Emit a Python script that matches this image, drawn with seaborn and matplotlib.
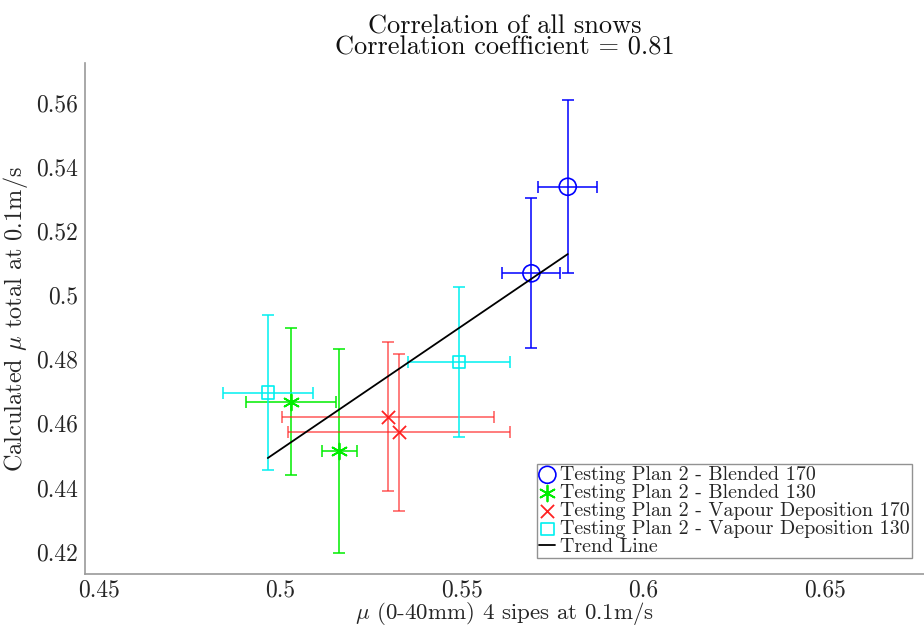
import numpy as np
import pandas as pd
import matplotlib
matplotlib.use("Agg")
import matplotlib.pyplot as plt
import seaborn as sns

# Measured friction (x) vs calculated friction (y), with error half-widths
series_names = [
    "Testing Plan 2 - Blended 170",
    "Testing Plan 2 - Blended 130",
    "Testing Plan 2 - Vapour Deposition 170",
    "Testing Plan 2 - Vapour Deposition 130",
]
blended170_x = [0.5791, 0.5691]
blended170_y = [0.5338, 0.5068]
blended170_xerr = [0.0081, 0.0080]
blended170_yerr = [0.0270, 0.0234]

blended130_x = [0.5030, 0.5162]
blended130_y = [0.4668, 0.4515]
blended130_xerr = [0.0124, 0.0048]
blended130_yerr = [0.0228, 0.0318]

vapour170_x = [0.5295, 0.5327]
vapour170_y = [0.4621, 0.4572]
vapour170_xerr = [0.0292, 0.0305]
vapour170_yerr = [0.0233, 0.0244]

vapour130_x = [0.4965, 0.5492]
vapour130_y = [0.4696, 0.4792]
vapour130_xerr = [0.0124, 0.0140]
vapour130_yerr = [0.0241, 0.0234]

correlation_coefficient = 0.81

x_ticks = [0.45, 0.5, 0.55, 0.6, 0.65]
x_tick_labels = ["0.45", "0.5", "0.55", "0.6", "0.65"]
y_ticks = [0.42, 0.44, 0.46, 0.48, 0.5, 0.52, 0.54, 0.56]
y_tick_labels = ["0.42", "0.44", "0.46", "0.48", "0.5", "0.52", "0.54", "0.56"]

sns.set_style("white")
plt.rcParams["font.family"] = ["cmr10", "DejaVu Serif"]
plt.rcParams["mathtext.fontset"] = "cm"
plt.rcParams["axes.formatter.use_mathtext"] = True

fig = plt.figure(figsize=(9.24, 6.27), dpi=100)
ax = fig.add_axes([0.0917, 0.0845, 0.9083, 0.8145])

groups = [
    (blended170_x, blended170_y, blended170_xerr, blended170_yerr, "#0000ff", "o", 150, 1.0),
    (blended130_x, blended130_y, blended130_xerr, blended130_yerr, "#00ee00", (6, 2, 0), 130, 1.0),
    (vapour170_x, vapour170_y, vapour170_xerr, vapour170_yerr, "#ff2222", "x", 90, 0.75),
    (vapour130_x, vapour130_y, vapour130_xerr, vapour130_yerr, "#00f0f0", "s", 80, 1.0),
]

frames = []
for name, (gx, gy, gxe, gye, col, mk, sz, al) in zip(series_names, groups):
    ax.errorbar(gx, gy, xerr=gxe, yerr=gye, fmt="none", ecolor=col,
                elinewidth=1.1, capsize=4.5, capthick=1.1, alpha=al, zorder=2)
    df = pd.DataFrame({"x": gx, "y": gy})
    frames.append(df)
    if mk in ("o", "s"):
        sns.scatterplot(data=df, x="x", y="y", ax=ax, marker=mk, s=sz,
                        facecolor="none", edgecolor=col, linewidth=1.2,
                        label=name, zorder=3)
    else:
        sns.scatterplot(data=df, x="x", y="y", ax=ax, marker=mk, s=sz,
                        color=col, linewidth=1.3, label=name, zorder=3)

# Least-squares trend over all points
all_df = pd.concat(frames, ignore_index=True)
slope, intercept = np.polyfit(all_df["x"], all_df["y"], 1)
trend_x = np.array([all_df["x"].min(), all_df["x"].max()])
trend = pd.DataFrame({"x": trend_x, "y": slope * trend_x + intercept})
sns.lineplot(data=trend, x="x", y="y", ax=ax, color="black", linewidth=1.3,
             label="Trend Line", zorder=4)

ax.set_xlim(0.4461, 0.6772)
ax.set_ylim(0.4130, 0.5723)
ax.set_xticks(x_ticks)
ax.set_xticklabels(x_tick_labels)
ax.set_yticks(y_ticks)
ax.set_yticklabels(y_tick_labels)

for side in ("top", "right"):
    ax.spines[side].set_visible(False)
for side in ("left", "bottom"):
    ax.spines[side].set_color("#9a9a9a")
    ax.spines[side].set_linewidth(1.2)
ax.tick_params(direction="in", length=5, width=0.8, color="#9a9a9a",
               labelsize=17, labelcolor="#262626", pad=5)
ax.tick_params(axis="x", pad=4)

ax.set_xlabel(r"$\mu$ (0-40mm) 4 sipes at 0.1m/s", fontsize=16.5,
              color="#262626", labelpad=-1)
ax.set_ylabel(r"Calculated $\mu$ total at 0.1m/s", fontsize=17.5,
              color="#262626", labelpad=4)
ax.set_title("Correlation of all snows\nCorrelation coefficient = %.2f"
             % correlation_coefficient,
             fontsize=19, color="#111111", pad=6, linespacing=0.9)

leg = ax.legend(loc="lower right", bbox_to_anchor=(0.9857, 0.0313), fontsize=14.4,
                frameon=True, fancybox=False, edgecolor="#777777",
                borderpad=0.1, labelspacing=0.0, handlelength=0.8,
                handletextpad=0.25, borderaxespad=0.0)
leg.get_frame().set_linewidth(1.0)

fig.savefig("out.png", dpi=100)
